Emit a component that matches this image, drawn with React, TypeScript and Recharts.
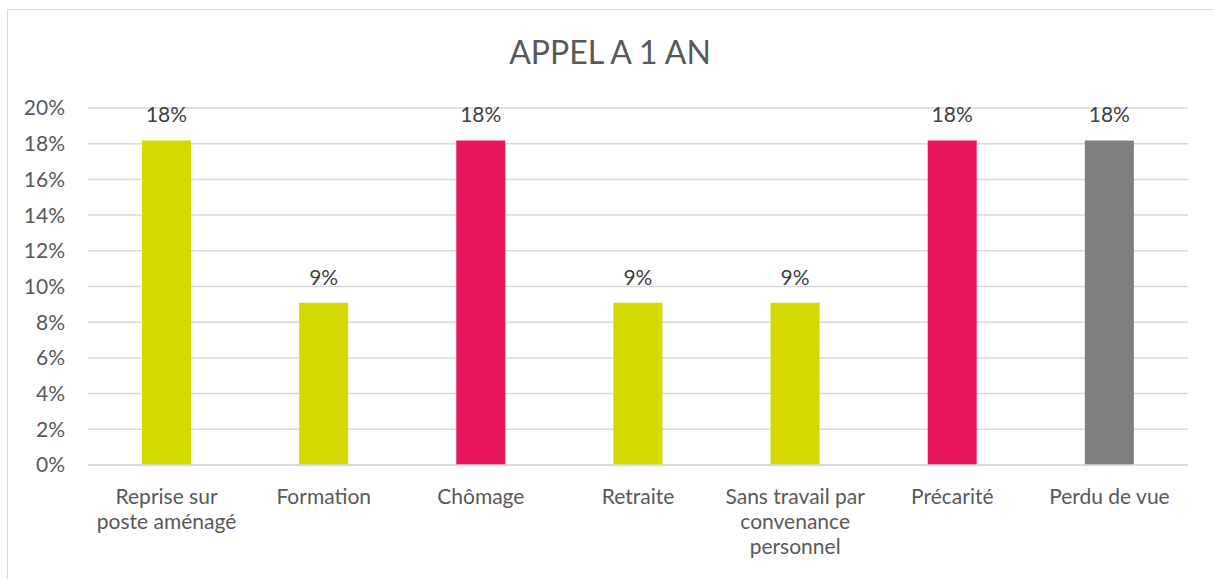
import React from "react";
import { BarChart, Bar, XAxis, YAxis, CartesianGrid, Cell, LabelList } from "recharts";

const categories = [
  "Reprise sur\nposte aménagé",
  "Formation",
  "Chômage",
  "Retraite",
  "Sans travail par\nconvenance\npersonnel",
  "Précarité",
  "Perdu de vue",
];
const shares = [0.1818, 0.0909, 0.1818, 0.0909, 0.0909, 0.1818, 0.1818];
const barColors = ["#d4d900", "#d4d900", "#e8175d", "#d4d900", "#d4d900", "#e8175d", "#7f7f7f"];
const yTicks = [0, 0.02, 0.04, 0.06, 0.08, 0.1, 0.12, 0.14, 0.16, 0.18, 0.2];

const FONT = "Lato, 'Open Sans', sans-serif";

const data = categories.map((name, i) => ({ name, value: shares[i] }));

const pct = (v: number) => `${Math.round(v * 100)}%`;

function CategoryTick(props: any) {
  const { x, y, payload } = props;
  const lines = String(payload.value).split("\n");
  return (
    <text x={x} y={y} textAnchor="middle" fill="#595959" fontSize={21} fontFamily={FONT}>
      {lines.map((line, i) => (
        <tspan key={i} x={x} dy={i === 0 ? 31 : 25}>
          {line}
        </tspan>
      ))}
    </text>
  );
}

export default function App() {
  return (
    <div style={{ position: "relative", width: 1213, height: 579, overflow: "hidden", background: "#fff" }}>
      <style>{`body{margin:0}`}</style>
      <div
        style={{
          position: "absolute",
          left: 7,
          top: 9,
          width: 1230,
          height: 600,
          border: "1px solid #d9d9d9",
          boxSizing: "border-box",
        }}
      />
      <div
        style={{
          position: "absolute",
          left: 0,
          top: 33,
          width: 1220,
          textAlign: "center",
          fontFamily: FONT,
          fontSize: 32,
          color: "#595959",
          lineHeight: "38px",
        }}
      >
        APPEL A 1 AN
      </div>
      <div style={{ position: "absolute", left: 0, top: 0 }}>
        <BarChart
          width={1213}
          height={579}
          data={data}
          margin={{ top: 108, right: 25, bottom: 0, left: 0 }}
        >
          <CartesianGrid vertical={false} stroke="#d9d9d9" strokeWidth={1.5} />
          <XAxis
            dataKey="name"
            tick={<CategoryTick />}
            tickLine={false}
            axisLine={{ stroke: "#d9d9d9", strokeWidth: 1.5 }}
            interval={0}
            height={114}
          />
          <YAxis
            domain={[0, 0.2]}
            ticks={yTicks}
            interval={0}
            tickFormatter={pct}
            tick={{ fill: "#595959", fontSize: 21, fontFamily: FONT }}
            tickLine={false}
            axisLine={false}
            width={88}
            tickMargin={17}
          />
          <Bar dataKey="value" barSize={49} isAnimationActive={false}>
            {data.map((d, i) => (
              <Cell key={d.name} fill={barColors[i]} />
            ))}
            <LabelList
              dataKey="value"
              position="top"
              offset={18}
              formatter={(v: any) => pct(Number(v))}
              style={{ fill: "#404040", fontSize: 21, fontFamily: FONT }}
            />
          </Bar>
        </BarChart>
      </div>
    </div>
  );
}
